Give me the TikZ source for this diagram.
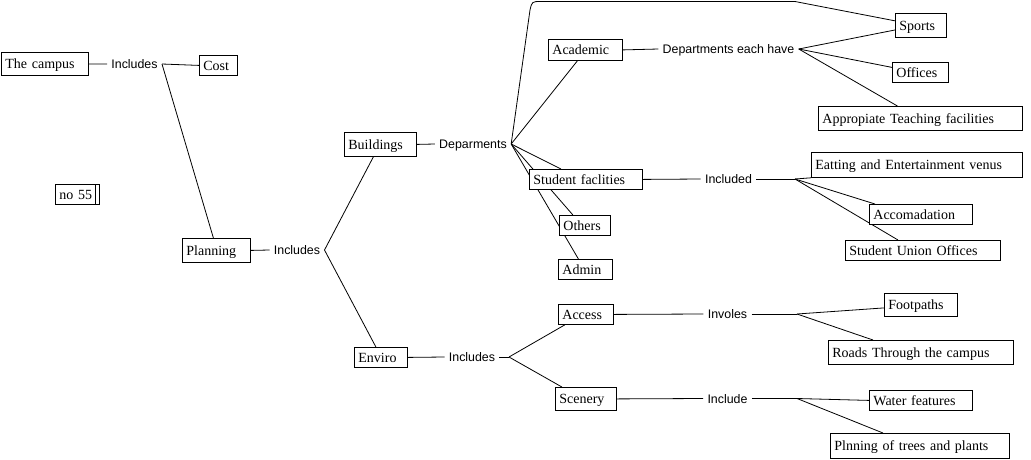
\documentclass[tikz,border=0pt]{standalone}
\usepackage{fontspec}
\setmainfont{Liberation Serif}
\newfontfamily\linkfont{Liberation Sans}
\usetikzlibrary{backgrounds}

\begin{document}
\begin{tikzpicture}[x=1pt,y=-1pt,line width=0.8pt,
    topic/.style={draw,fill=white,anchor=north west,inner xsep=4pt,inner ysep=0pt,minimum height=20pt,text width=#1,align=left,text height=9.5pt,text depth=0pt,font=\fontsize{14}{16}\selectfont},
    link/.style={inner xsep=4pt,inner ysep=1pt,text height=9pt,text depth=0pt,font=\linkfont\fontsize{12.4}{14}\selectfont}]

    \useasboundingbox (0,0) rectangle (1031,459);

    % boxes
    \node[topic=79pt,minimum height=23pt] (campus) at (1,52) {The campus};
    \node[topic=30pt] (cost) at (199,55) {Cost};
    \node[topic=36pt] (no55) at (55,184) {no 55};
    \node[topic=60pt,minimum height=24pt] (planning) at (182,238) {Planning};
    \node[topic=64pt,minimum height=24pt] (buildings) at (344,132) {Buildings};
    \node[topic=45pt] (enviro) at (354,347) {Enviro};
    \node[topic=66pt,minimum height=21pt] (academic) at (548,39) {Academic};
    \node[topic=105pt] (studfac) at (529,169) {Student faclities};
    \node[topic=43pt] (others) at (559,215) {Others};
    \node[topic=46pt] (admin) at (558,259) {Admin};
    \node[topic=47pt] (access) at (558,304) {Access};
    \node[topic=53pt,minimum height=23pt] (scenery) at (555,387) {Scenery};
    \node[topic=43pt,minimum height=24pt] (sports) at (895,13) {Sports};
    \node[topic=48pt] (offices) at (892,62) {Offices};
    \node[topic=196pt,minimum height=24pt] (teaching) at (818,106) {Appropiate Teaching facilities};
    \node[topic=203pt,minimum height=25pt] (eating) at (811,152) {Eatting and Entertainment venus};
    \node[topic=95pt] (accom) at (869,204) {Accomadation};
    \node[topic=147pt] (union) at (845,240) {Student Union Offices};
    \node[topic=65pt,minimum height=23pt] (footpaths) at (884,293) {Footpaths};
    \node[topic=177pt,minimum height=24pt] (roads) at (828,340) {Roads Through the campus};
    \node[topic=95pt] (water) at (869,390) {Water features};
    \node[topic=171pt,minimum height=25pt] (plnning) at (830,433) {Plnning of trees and plants};

    \draw ([xshift=-4pt]no55.north east) -- ([xshift=-4pt]no55.south east);

    % link words
    \node[link] (inc1) at (134.5,64) {Includes};
    \node[link] (inc2) at (297,250) {Includes};
    \node[link] (dep) at (473,144) {Deparments};
    \node[link] (deh) at (728.5,49) {Departments each have};
    \node[link] (incd) at (728.5,179) {Included};
    \node[link] (inc3) at (472,357) {Includes};
    \node[link] (inv) at (727.5,314) {Involes};
    \node[link] (incl) at (727.5,398.5) {Include};

    \coordinate (j1) at (inc1.east);
    \coordinate (j2) at (inc2.east);
    \coordinate (j3) at (dep.east);
    \coordinate (j4) at (deh.east);
    \coordinate (j5) at (795,179);
    \coordinate (j6) at (509,357);
    \coordinate (j7) at (797,314);
    \coordinate (j8) at (797,398.5);

    \begin{scope}[on background layer]
    \begin{scope}[line width=0.8pt]
        \path
            (campus.east) edge (inc1.west)
            (j1) edge (cost.west)
            (j1) edge ([xshift=-3pt]planning.north)
            (planning.east) edge (inc2.west)
            (j2) edge ([xshift=-7pt]buildings.south)
            (j2) edge ([xshift=-5pt]enviro.north)
        ;

        \path
            (buildings.east) edge (dep.west)
            (j3) edge ([xshift=-8pt]academic.south)
            (j3) edge ([xshift=-25pt]studfac.north)
            (j3) edge ([xshift=-12pt]others.north)
            (j3) edge ([xshift=-7pt]admin.north)
        ;
        \draw (j3) -- (530,10) .. controls (532,1.5) .. (541,1.5) -- (795,1.5) -- (sports.170);

        \path
            (academic.east) edge (deh.west)
            (j4) edge (sports.190)
            (j4) edge (offices.170)
            (j4) edge ([xshift=-23pt]teaching.north)
        ;

        \path
            (studfac.east) edge (incd.west)
            (incd.east) edge (j5)
            (j5) edge (eating.south west)
            (j5) edge ([xshift=6pt]accom.north west)
            (j5) edge ([xshift=53pt]union.north west)
        ;

        \path
            (enviro.east) edge (inc3.west)
            (inc3.east) edge (j6)
            (j6) edge ([xshift=-21pt]access.south)
            (j6) edge ([xshift=-24pt]scenery.north)
        ;

        \path
            (access.east) edge (inv.west)
            (inv.east) edge (j7)
            (j7) edge ([yshift=-3pt]footpaths.west)
            (j7) edge ([xshift=45pt]roads.north west)
            (scenery.east) edge (incl.west)
            (incl.east) edge (j8)
            (j8) edge (water.west)
            (j8) edge ([xshift=53pt]plnning.north west)
        ;
    \end{scope}
    \end{scope}

\end{tikzpicture}
\end{document}
